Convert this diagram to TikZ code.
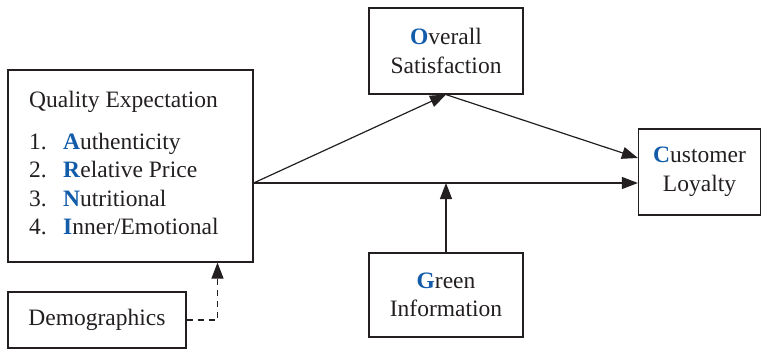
\documentclass[tikz,border=0pt]{standalone}
\usepackage{fontspec}
\setmainfont{Liberation Serif}
\usetikzlibrary{arrows.meta,calc}
\definecolor{ink}{RGB}{35,31,32}
\definecolor{hiblue}{RGB}{18,92,170}
\newcommand{\hl}[1]{\textcolor{hiblue}{\textbf{#1}}}
\begin{document}
\begin{tikzpicture}[x=1pt,y=1pt,
  box/.style={draw=ink,line width=1.2pt,rectangle,inner sep=0pt,text=ink,
    font=\fontsize{23.5}{28.5}\selectfont,align=center},
  txt/.style={inner sep=0pt,text=ink,font=\fontsize{23.5}{28.5}\selectfont,anchor=base west},
  conn/.style={draw=ink,line width=1.2pt,-{Triangle[length=16pt,width=12pt]}},
  dconn/.style={conn,dash pattern=on 6pt off 5pt}]
\useasboundingbox (0,0) rectangle (762,-350);
% boxes
\node[box,minimum width=245pt,minimum height=192pt] (qe) at (130.5,-166) {};
\node[txt] (qet) at (29,-108) {Quality Expectation};
\node[txt] (n1) at (29,-149) {1.};
\node[txt] (i1) at (63,-149) {\hl{A}uthenticity};
\node[txt] (n2) at (29,-177.5) {2.};
\node[txt] (i2) at (63,-177.5) {\hl{R}elative Price};
\node[txt] (n3) at (29,-206) {3.};
\node[txt] (i3) at (63,-206) {\hl{N}utritional};
\node[txt] (n4) at (29,-234.5) {4.};
\node[txt] (i4) at (63,-234.5) {\hl{I}nner/Emotional};
\node[box,minimum width=154pt,minimum height=86pt] (os) at (446,-51) {\hl{O}verall\\Satisfaction};
\node[box,minimum width=122pt,minimum height=86pt] (cl) at (699.5,-172) {\hl{C}ustomer\\Loyalty};
\node[box,minimum width=154pt,minimum height=84pt] (gi) at (446,-295) {\hl{G}reen\\Information};
\node[box,minimum width=178pt,minimum height=56pt] (dm) at (97,-320) {Demographics};
% connectors
\coordinate (split) at ($(qe.east)+(0,-17)$);
\coordinate (clhi) at ($(cl.west)+(0,14)$);
\coordinate (cllo) at ($(cl.west)+(0,-11)$);
\draw[conn] (split) -- (os.south);
\draw[conn] (os.south) -- (clhi);
\draw[conn] (split) -- (cllo);
\draw[conn] (gi.north) -- (gi.north |- split);
\draw[dconn] (dm.east) -| ($(qe.south)+(87,0)$);
\end{tikzpicture}
\end{document}
